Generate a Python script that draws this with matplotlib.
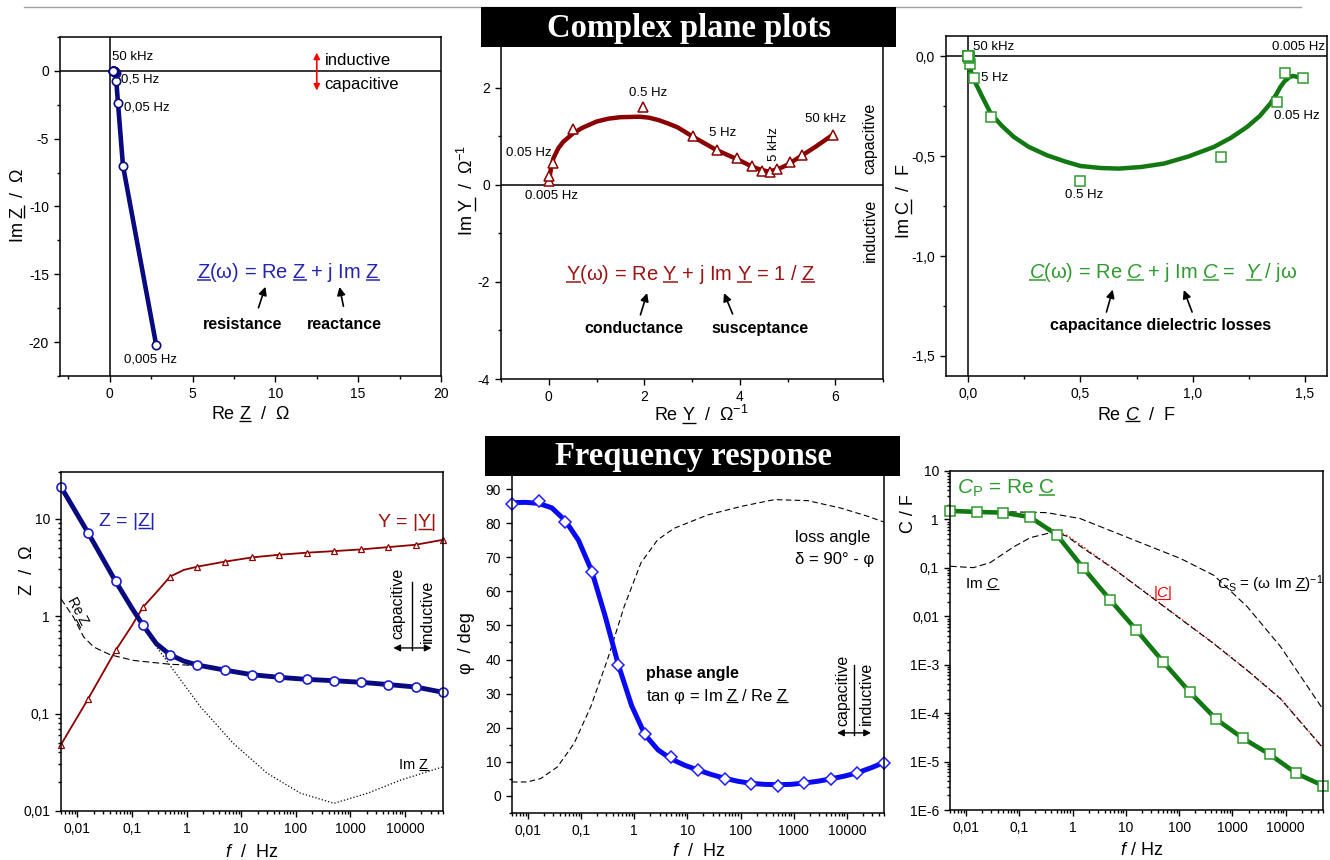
import re
import numpy as np
import matplotlib
matplotlib.use('Agg')
import matplotlib.pyplot as plt
from matplotlib.patches import Rectangle
from matplotlib.lines import Line2D
from matplotlib.transforms import IdentityTransform
from matplotlib.ticker import FixedLocator, FixedFormatter, MultipleLocator, LogLocator, NullFormatter

plt.rcParams['font.family'] = ['Liberation Sans', 'DejaVu Sans']
plt.rcParams['mathtext.fontset'] = 'custom'
plt.rcParams['mathtext.rm'] = 'Liberation Sans'
plt.rcParams['mathtext.it'] = 'Liberation Sans:italic'
plt.rcParams['mathtext.bf'] = 'Liberation Sans:bold'
plt.rcParams['axes.unicode_minus'] = False

# measured frequencies, 0.005 Hz ... 50 kHz
freq = [0.005, 0.0158, 0.05, 0.158, 0.5, 1.58, 5, 15.8, 50, 158, 500, 1580, 5000, 15800, 50000]

# impedance in the complex plane (Ohm)
re_z = [2.81, 0.80, 0.50, 0.40, 0.40, 0.32, 0.28, 0.25, 0.235, 0.225, 0.215, 0.21, 0.20, 0.19, 0.17]
im_z = [-20.24, -6.98, -2.35, -0.76, -0.19, -0.08, -0.04, -0.02, -0.01, -0.005, 0.0, 0.0, 0.0, 0.0, 0.01]

# admittance (1/Ohm): points and fitted curve
re_y = [0.00, 0.01, 0.08, 0.51, 1.97, 3.03, 3.52, 3.95, 4.26, 4.46, 4.63, 4.79, 5.05, 5.30, 5.95]
im_y = [0.08, 0.17, 0.45, 1.15, 1.59, 1.01, 0.72, 0.55, 0.39, 0.29, 0.26, 0.32, 0.46, 0.61, 1.03]
re_y_fit = [0.0, 0.05, 0.1, 0.2, 0.3, 0.5, 0.7, 1.0, 1.25, 1.5, 1.9, 2.1, 2.3, 2.5, 2.7, 3.0,
            3.25, 3.5, 3.75, 4.0, 4.2, 4.4, 4.6, 4.8, 5.0, 5.3, 5.6, 5.95]
im_y_fit = [0.05, 0.35, 0.55, 0.75, 0.88, 1.05, 1.17, 1.3, 1.36, 1.39, 1.4, 1.38, 1.33, 1.26, 1.18, 1.0,
            0.86, 0.72, 0.61, 0.5, 0.4, 0.32, 0.27, 0.32, 0.41, 0.6, 0.79, 1.03]

# complex capacitance (F): points and fitted curve
re_c = [1.491, 1.411, 1.377, 1.129, 0.496, 0.101, 0.025, 0.007, 0.003, 0.001, 0.0005, 0.0003, 0.0002, 0.0001, 0.0]
im_c = [-0.11, -0.085, -0.23, -0.507, -0.623, -0.305, -0.112, -0.04, -0.012, -0.004, -0.002, -0.001, -0.0005, -0.0002, 0.0]
re_c_fit = [0.0, 0.003, 0.012, 0.033, 0.06, 0.1, 0.15, 0.203, 0.27, 0.352, 0.43, 0.5, 0.59, 0.671, 0.77,
            0.872, 0.98, 1.095, 1.17, 1.243, 1.30, 1.347, 1.372, 1.392, 1.41, 1.43, 1.445, 1.459, 1.473, 1.485]
im_c_fit = [0.0, -0.03, -0.08, -0.138, -0.2, -0.288, -0.35, -0.405, -0.455, -0.497, -0.527, -0.55, -0.56,
            -0.563, -0.555, -0.538, -0.503, -0.455, -0.41, -0.355, -0.3, -0.238, -0.195, -0.155, -0.127,
            -0.108, -0.1, -0.102, -0.107, -0.115]

# Bode: |Z| and |Y|
z_mod = [21.1, 7.08, 2.27, 0.81, 0.394, 0.314, 0.279, 0.25, 0.235, 0.224, 0.217, 0.209, 0.198, 0.187, 0.165]
y_mod = [0.048, 0.142, 0.443, 1.23, 2.54, 3.21, 3.61, 3.99, 4.25, 4.46, 4.63, 4.82, 5.09, 5.38, 6.05]
freq_line = [0.005, 0.0158, 0.05, 0.1, 0.158, 0.28, 0.5, 0.89, 1.58, 5, 15.8, 50, 158, 500, 1580, 5000, 15800, 50000]
z_mod_line = [21.1, 7.08, 2.27, 1.2, 0.81, 0.52, 0.40, 0.345, 0.314, 0.279, 0.25, 0.235, 0.224, 0.217,
              0.209, 0.198, 0.187, 0.165]
y_mod_line = [0.048, 0.142, 0.443, 0.8, 1.23, 1.75, 2.54, 2.97, 3.21, 3.61, 3.99, 4.25, 4.46, 4.63,
              4.82, 5.09, 5.38, 6.05]
re_z_freq = [0.005, 0.0085, 0.013, 0.02, 0.04, 0.107, 0.5, 1.58, 5, 15.8, 50, 158, 500, 1580, 5000, 15800, 50000]
re_z_bode = [1.5, 0.97, 0.61, 0.48, 0.40, 0.35, 0.32, 0.31, 0.277, 0.248, 0.233, 0.222, 0.215, 0.207,
             0.196, 0.185, 0.163]
im_z_freq = [0.158, 0.188, 0.58, 1.8, 7.3, 30, 123, 500, 2065, 8500, 51000]
im_z_bode = [0.8, 0.658, 0.277, 0.117, 0.049, 0.0244, 0.0152, 0.012, 0.0152, 0.0208, 0.0285]

# phase angle (deg)
phase = [85.7, 86.4, 80.3, 65.8, 38.3, 18.1, 11.3, 7.5, 5.0, 3.6, 3.0, 3.8, 5.1, 6.6, 9.8]
phase_freq = [0.005, 0.009, 0.0158, 0.028, 0.05, 0.089, 0.158, 0.28, 0.5, 0.89, 1.58, 2.8, 5, 8.9, 15.8,
              28, 50, 89, 158, 280, 500, 890, 1580, 2800, 5000, 8900, 15800, 28000, 50000]
phase_line = [86.0, 86.1, 85.8, 84.5, 80.8, 75, 66, 53, 38.5, 26.5, 18, 13.5, 10.8, 9, 7.6,
              6.3, 5.2, 4.3, 3.7, 3.4, 3.3, 3.4, 3.8, 4.3, 5.0, 5.8, 6.8, 8.2, 9.8]
loss_freq = [0.005, 0.0097, 0.0173, 0.0357, 0.0736, 0.152, 0.313, 0.644, 1.33, 2.74, 5.64, 23.9,
             102, 432, 1840, 7800, 24800, 52600]
loss_angle = [4.1, 4.1, 5.1, 8.5, 15.4, 26.2, 40, 55.5, 68.3, 75.1, 78.5, 82.4, 84.9, 86.9, 86.6,
              84.4, 82, 80.2]

# capacitance spectra (F)
c_par = [1.50, 1.43, 1.38, 1.12, 0.487, 0.0998, 0.0222, 0.00517, 0.00115, 2.72e-4, 7.42e-5,
         3.01e-5, 1.41e-5, 5.71e-6, 3.18e-6]
im_c_freq = [0.005, 0.0137, 0.0283, 0.0777, 0.16, 0.44, 0.78, 1.39, 5.9, 25, 106, 449, 1900, 8050, 51000]
im_c_bode = [0.108, 0.101, 0.128, 0.27, 0.42, 0.55, 0.45, 0.28, 0.095, 0.029, 0.0088, 0.0027,
             7.6e-4, 1.95e-4, 1.85e-5]
mod_c_freq = [0.005, 0.05, 0.16, 0.33, 0.78, 1.39, 5.9, 25, 106, 449, 1900, 8050, 51000]
mod_c = [1.5, 1.4, 1.2, 0.70, 0.47, 0.30, 0.0966, 0.0295, 0.009, 0.00274, 7.7e-4, 2.0e-4, 1.87e-5]
c_ser_freq = [0.005, 0.0777, 0.33, 1.39, 5.9, 25, 106, 449, 1900, 8050, 51000]
c_ser = [1.5, 1.43, 1.38, 1.04, 0.552, 0.293, 0.156, 0.07, 0.0157, 0.00234, 1.16e-4]

# tick labels
f_ticks = [0.01, 0.1, 1, 10, 100, 1000, 10000]
f_ticklabels = ['0,01', '0,1', '1', '10', '100', '1000', '10000']
z_ticks = [0.01, 0.1, 1, 10]
z_ticklabels = ['0,01', '0,1', '1', '10']
c_ticks = [1e-6, 1e-5, 1e-4, 1e-3, 0.01, 0.1, 1, 10]
c_ticklabels = ['1E-6', '1E-5', '1E-4', '1E-3', '0,01', '0,1', '1', '10']
cplane_ticks = [0.0, 0.5, 1.0, 1.5]
cplane_xlabels = ['0,0', '0,5', '1,0', '1,5']
cplane_yticks = [-1.5, -1.0, -0.5, 0.0]
cplane_ylabels = ['-1,5', '-1,0', '-0,5', '0,0']

navy = '#0a0a80'
zblue = '#2424b0'
dred = '#8b0000'
ytext = '#9a1414'
green = '#127812'
lgreen = '#2f9a2f'
blue = '#0a0af0'

W, H = 1330, 860
fig = plt.figure(figsize=(13.3, 8.6), dpi=100)

# <Z> -> upright underlined symbol, <*C> -> italic underlined symbol
UL = re.compile(r'<(\*?)(\w)>')
underlined = []


def markup(s):
    out, pieces, pos = '', [], 0
    for m in UL.finditer(s):
        out += s[pos:m.start()]
        seg = (r'$\mathit{%s}$' if m.group(1) else r'$\mathrm{%s}$') % m.group(2)
        out += seg
        pieces.append((out, seg))
        pos = m.end()
    return out + s[pos:], pieces


def utext(ax, x, y, s, **kw):
    txt, pieces = markup(s)
    t = ax.text(x, y, txt, **kw)
    if pieces:
        underlined.append((t, pieces))
    return t


def ulabel(label, s):
    txt, pieces = markup(s)
    label.set_text(txt)
    if pieces:
        underlined.append((label, pieces))


def draw_underlines():
    fig.canvas.draw()
    r = fig.canvas.get_renderer()
    for t, pieces in underlined:
        prop = t.get_fontproperties()
        em = prop.get_size_in_points() * fig.dpi / 72
        w, h, d = r.get_text_width_height_descent(t.get_text(), prop, ismath=True)
        _, h_lp, d_lp = r.get_text_width_height_descent('lp', prop, ismath=False)
        h, d = max(h, h_lp), max(d, d_lp)
        bb = t.get_window_extent(r)
        cx, cy = (bb.x0 + bb.x1) / 2, (bb.y0 + bb.y1) / 2
        a = np.deg2rad(t.get_rotation())
        ux, uy = np.cos(a), np.sin(a)
        vx, vy = -uy, ux
        v = -h / 2 + d - 0.1 * em
        for prefix, seg in pieces:
            end = r.get_text_width_height_descent(prefix, prop, ismath=True)[0]
            seg_w = r.get_text_width_height_descent(seg, prop, ismath=True)[0]
            u0, u1 = -w / 2 + end - seg_w, -w / 2 + end
            xs = [cx + u0 * ux + v * vx, cx + u1 * ux + v * vx]
            ys = [cy + u0 * uy + v * vy, cy + u1 * uy + v * vy]
            fig.add_artist(Line2D(xs, ys, color=t.get_color(), lw=max(0.8, 0.075 * em * 0.72),
                                  transform=IdentityTransform(), solid_capstyle='butt'))


def frame(px_left, px_top, px_w, px_h):
    ax = fig.add_axes([px_left / W, 1 - (px_top + px_h) / H, px_w / W, px_h / H])
    for s in ax.spines.values():
        s.set_linewidth(1.1)
    ax.tick_params(which='both', direction='out', top=False, right=False, labelsize=10, width=1.0)
    ax.tick_params(which='major', length=4.5)
    ax.tick_params(which='minor', length=2.5)
    return ax


def axis_labels(ax, xl, yl, xpos, ypos, size=13):
    ax.set_xlabel('x', fontsize=size)
    ax.set_ylabel('y', fontsize=size)
    ulabel(ax.xaxis.label, xl)
    ulabel(ax.yaxis.label, yl)
    ax.xaxis.set_label_coords(*xpos)
    ax.yaxis.set_label_coords(*ypos)
    ax.xaxis.label.set_va('center')
    ax.yaxis.label.set_va('center')


def log_freq(ax):
    ax.set_xscale('log')
    ax.set_xlim(0.005, 50000)
    ax.xaxis.set_major_locator(FixedLocator(f_ticks))
    ax.xaxis.set_major_formatter(FixedFormatter(f_ticklabels))
    ax.xaxis.set_minor_locator(LogLocator(base=10, subs=range(2, 10), numticks=40))
    ax.xaxis.set_minor_formatter(NullFormatter())


def arrow(ax, tail, head, color='k', style='-|>', coords='data', lw=1.2, ms=12):
    ax.annotate('', xy=head, xytext=tail, xycoords=coords, textcoords=coords,
                arrowprops=dict(arrowstyle=style, color=color, lw=lw, mutation_scale=ms,
                                shrinkA=0, shrinkB=0))


def cap_ind(ax, xc, xi, yc, yi, xs, y0, y1, xl, xr):
    ax.text(xc, yc, 'capacitive', rotation=90, ha='center', va='center', fontsize=11.5,
            transform=ax.transAxes)
    ax.text(xi, yi, 'inductive', rotation=90, ha='center', va='center', fontsize=11.5,
            transform=ax.transAxes)
    ax.plot([xs, xs], [y0, y1], color='k', lw=1, transform=ax.transAxes)
    arrow(ax, (xs, y1 + 0.006), (xl, y1 + 0.006), coords='axes fraction', lw=1, ms=10)
    arrow(ax, (xs, y1 + 0.006), (xr, y1 + 0.006), coords='axes fraction', lw=1, ms=10)


# ---------------- Z in the complex plane
ax1 = frame(60, 37, 381, 339)
ax1.set_xlim(-3, 20)
ax1.set_ylim(-22.5, 2.5)
ax1.axhline(0, color='k', lw=1.1)
ax1.axvline(0, color='k', lw=1.1)
ax1.plot(re_z, im_z, '-o', color=navy, lw=3.3, ms=6, mfc='white', mec=navy, mew=1.2)
ax1.xaxis.set_major_locator(MultipleLocator(5))
ax1.xaxis.set_minor_locator(MultipleLocator(2.5))
ax1.yaxis.set_major_locator(MultipleLocator(5))
ax1.yaxis.set_minor_locator(MultipleLocator(2.5))
axis_labels(ax1, 'Re <Z>  /  Ω', 'Im <Z>  /  Ω', (0.499, -0.115), (-0.110, 0.504))
for txt, x, y in [('50 kHz', 0.12, 1.0), ('0,5 Hz', 0.66, -0.6), ('0,05 Hz', 0.84, -2.67),
                  ('0,005 Hz', 0.84, -21.3)]:
    ax1.text(x, y, txt, fontsize=9.5, ha='left', va='center')
arrow(ax1, (12.5, 0.0), (12.5, 1.35), color='red', lw=1.2, ms=9)
arrow(ax1, (12.5, 0.0), (12.5, -1.45), color='red', lw=1.2, ms=9)
ax1.text(13.0, 0.79, 'inductive', fontsize=12, va='center')
ax1.text(12.95, -0.98, 'capacitive', fontsize=12, va='center')
utext(ax1, 10.8, -14.9, '<Z>(ω) = Re <Z> + j Im <Z>', color=zblue, fontsize=14.5, ha='center', va='center')
arrow(ax1, (8.98, -17.47), (9.40, -15.92))
arrow(ax1, (14.11, -17.35), (13.87, -15.93))
ax1.text(8.01, -18.7, 'resistance', fontsize=11.5, fontweight='bold', ha='center', va='center')
ax1.text(14.17, -18.7, 'reactance', fontsize=11.5, fontweight='bold', ha='center', va='center')

# ---------------- Y in the complex plane
ax2 = frame(501, 39, 382, 340)
ax2.set_xlim(-1, 7)
ax2.set_ylim(-4, 3)
ax2.axhline(0, color='k', lw=1.1)
ax2.plot(re_y_fit, im_y_fit, '-', color=dred, lw=3.2)
ax2.plot(re_y, im_y, '^', ms=7.5, mfc='white', mec=dred, mew=1.1)
ax2.xaxis.set_major_locator(MultipleLocator(2))
ax2.xaxis.set_minor_locator(MultipleLocator(1))
ax2.yaxis.set_major_locator(FixedLocator([-4, -2, 0, 2]))
ax2.yaxis.set_minor_locator(FixedLocator([-3, -1, 1]))
axis_labels(ax2, 'Re <Y>  /  Ω$^{-1}$', 'Im <Y>  /  Ω$^{-1}$', (0.525, -0.106), (-0.089, 0.555))
for txt, x, y in [('0.5 Hz', 2.09, 1.88), ('0.05 Hz', -0.41, 0.66), ('0.005 Hz', 0.05, -0.23),
                  ('5 Hz', 3.64, 1.06), ('50 kHz', 5.80, 1.35)]:
    ax2.text(x, y, txt, fontsize=9.5, ha='center', va='center')
ax2.text(4.72, 0.84, '5 kHz', fontsize=9.5, ha='center', va='center', rotation=90)
ax2.text(6.73, 0.95, 'capacitive', fontsize=11.5, ha='center', va='center', rotation=90)
ax2.text(6.73, -0.95, 'inductive', fontsize=11.5, ha='center', va='center', rotation=90)
utext(ax2, 2.97, -1.85, '<Y>(ω) = Re <Y> + j Im <Y> = 1 / <Z>', color=ytext, fontsize=14.5,
      ha='center', va='center')
arrow(ax2, (1.92, -2.68), (2.06, -2.23))
arrow(ax2, (3.85, -2.66), (3.67, -2.23))
ax2.text(1.79, -2.97, 'conductance', fontsize=11.5, fontweight='bold', ha='center', va='center')
ax2.text(4.43, -2.97, 'susceptance', fontsize=11.5, fontweight='bold', ha='center', va='center')

# ---------------- C in the complex plane
ax3 = frame(946, 36, 381, 340)
ax3.set_xlim(-0.1, 1.6)
ax3.set_ylim(-1.6, 0.1)
ax3.axhline(0, color='k', lw=1.1)
ax3.axvline(0, color='k', lw=1.1)
ax3.plot(re_c_fit, im_c_fit, '-', color=green, lw=3.2, solid_joinstyle='round')
ax3.plot(re_c, im_c, 's', ms=6.5, mfc='white', mec=lgreen, mew=1.1, clip_on=False)
ax3.xaxis.set_major_locator(FixedLocator(cplane_ticks))
ax3.xaxis.set_major_formatter(FixedFormatter(cplane_xlabels))
ax3.xaxis.set_minor_locator(MultipleLocator(0.25))
ax3.yaxis.set_major_locator(FixedLocator(cplane_yticks))
ax3.yaxis.set_major_formatter(FixedFormatter(cplane_ylabels))
ax3.yaxis.set_minor_locator(MultipleLocator(0.25))
axis_labels(ax3, 'Re <*C>  /  F', 'Im <C>  /  F', (0.498, -0.115), (-0.108, 0.515))
ax3.text(0.022, 0.043, '50 kHz', fontsize=9.5, ha='left', va='center')
ax3.text(1.592, 0.043, '0.005 Hz', fontsize=9.5, ha='right', va='center')
ax3.text(0.055, -0.11, '5 Hz', fontsize=9.5, ha='left', va='center')
ax3.text(0.515, -0.697, '0.5 Hz', fontsize=9.5, ha='center', va='center')
ax3.text(1.466, -0.30, '0.05 Hz', fontsize=9.5, ha='center', va='center')
utext(ax3, 0.87, -1.08, '<*C>(ω) = Re <*C> + j Im <*C> =  <*Y> / jω', color=lgreen, fontsize=14.5,
      ha='center', va='center')
arrow(ax3, (0.616, -1.28), (0.644, -1.168))
arrow(ax3, (0.998, -1.28), (0.961, -1.17))
ax3.text(0.857, -1.347, 'capacitance dielectric losses', fontsize=11.5, fontweight='bold',
         ha='center', va='center')

# ---------------- |Z|, |Y| vs frequency
ax4 = frame(61, 472, 382, 339)
log_freq(ax4)
ax4.set_yscale('log')
ax4.set_ylim(0.01, 30)
ax4.yaxis.set_major_locator(FixedLocator(z_ticks))
ax4.yaxis.set_major_formatter(FixedFormatter(z_ticklabels))
ax4.yaxis.set_minor_locator(LogLocator(base=10, subs=range(2, 10), numticks=40))
ax4.yaxis.set_minor_formatter(NullFormatter())
ax4.plot(re_z_freq, re_z_bode, '--', color='k', lw=0.8, dashes=(6, 3))
ax4.plot(im_z_freq, im_z_bode, ':', color='k', lw=0.9)
ax4.plot(freq_line, y_mod_line, '-', color=dred, lw=1.3)
ax4.plot(freq, y_mod, '^', ms=5, mfc='white', mec=dred, mew=0.9, clip_on=False)
ax4.plot(freq_line, z_mod_line, '-', color=navy, lw=3.5)
ax4.plot(freq, z_mod, 'o', ms=6.5, mfc='white', mec='#1c1cd0', mew=1.2, clip_on=False)
axis_labels(ax4, r'$\mathit{f}$  /  Hz', 'Z  /  Ω', (0.499, -0.121), (-0.089, 0.711))
utext(ax4, 0.098, 0.853, 'Z = |<Z>|', color=zblue, fontsize=14, ha='left', va='center',
      transform=ax4.transAxes)
utext(ax4, 0.982, 0.851, 'Y = |<Y>|', color=ytext, fontsize=14, ha='right', va='center',
      transform=ax4.transAxes)
utext(ax4, 0.045, 0.588, 'Re <Z>', fontsize=10, rotation=-62, ha='center', va='center',
      transform=ax4.transAxes)
utext(ax4, 0.883, 0.136, 'Im <Z>', fontsize=10.5, ha='left', va='center', transform=ax4.transAxes)
cap_ind(ax4, 0.883, 0.96, 0.613, 0.588, 0.918, 0.676, 0.475, 0.87, 0.97)

# ---------------- phase angle vs frequency
ax5 = frame(512, 472, 372, 341)
log_freq(ax5)
ax5.set_ylim(-5, 95)
ax5.yaxis.set_major_locator(MultipleLocator(10))
ax5.yaxis.set_minor_locator(MultipleLocator(5))
ax5.plot(loss_freq, loss_angle, '--', color='k', lw=0.8, dashes=(5, 3))
ax5.plot(phase_freq, phase_line, '-', color=blue, lw=3.6)
ax5.plot(freq, phase, 'D', ms=6, mfc='white', mec='#2020ff', mew=1.1, clip_on=False)
axis_labels(ax5, r'$\mathit{f}$  /  Hz', 'φ  / deg', (0.501, -0.114), (-0.122, 0.498))
ax5.text(0.761, 0.809, 'loss angle', fontsize=12, ha='left', va='center', transform=ax5.transAxes)
ax5.text(0.761, 0.742, 'δ = 90° - φ', fontsize=12, ha='left', va='center', transform=ax5.transAxes)
ax5.text(0.36, 0.408, 'phase angle', fontsize=11.5, fontweight='bold', ha='left', va='center',
         transform=ax5.transAxes)
utext(ax5, 0.36, 0.343, 'tan φ = Im <Z> / Re <Z>', fontsize=12, ha='left', va='center',
      transform=ax5.transAxes)
cap_ind(ax5, 0.890, 0.952, 0.361, 0.352, 0.919, 0.434, 0.229, 0.874, 0.965)

# ---------------- capacitance vs frequency
ax6 = frame(950, 471, 373, 339)
log_freq(ax6)
ax6.set_yscale('log')
ax6.set_ylim(1e-6, 10)
ax6.yaxis.set_major_locator(FixedLocator(c_ticks))
ax6.yaxis.set_major_formatter(FixedFormatter(c_ticklabels))
ax6.yaxis.set_minor_locator(LogLocator(base=10, subs=range(2, 10), numticks=40))
ax6.yaxis.set_minor_formatter(NullFormatter())
ax6.plot(c_ser_freq, c_ser, '--', color='k', lw=0.8, dashes=(6, 3))
ax6.plot(mod_c_freq, mod_c, ':', color='red', lw=1.0)
ax6.plot(im_c_freq, im_c_bode, '--', color='k', lw=0.8, dashes=(6, 3))
ax6.plot(freq, c_par, '-', color=green, lw=3.3)
ax6.plot(freq, c_par, 's', ms=6.5, mfc='white', mec=lgreen, mew=1.1, clip_on=False)
axis_labels(ax6, r'$\mathit{f}$ / Hz', 'C / F', (0.514, -0.118), (-0.112, 0.875))
utext(ax6, 0.019, 0.95, r'$\mathit{C}_\mathrm{P}$ = Re <C>', color=lgreen, fontsize=15,
      ha='left', va='center', transform=ax6.transAxes)
utext(ax6, 0.040, 0.667, 'Im <*C>', fontsize=11, ha='left', va='center', transform=ax6.transAxes)
utext(ax6, 0.545, 0.639, '|<*C>|', color='red', fontsize=11, ha='left', va='center',
      transform=ax6.transAxes)
utext(ax6, 0.715, 0.667, r'$\mathit{C}_\mathrm{S}$ = (ω Im <Z>)$^{-1}$', fontsize=11,
      ha='left', va='center', transform=ax6.transAxes)

# ---------------- headers
fig.add_artist(Line2D([24 / W, 1301 / W], [1 - 7 / H, 1 - 7 / H], color='#a0a0a0', lw=1))
for x0, y0, title in [(481, 7, 'Complex plane plots'), (485, 436, 'Frequency response')]:
    fig.add_artist(Rectangle((x0 / W, 1 - (y0 + 40) / H), 415 / W, 40 / H, facecolor='black',
                             edgecolor='none', transform=fig.transFigure, zorder=5))
    fig.text((x0 + 208) / W, 1 - (y0 + 21) / H, title, color='white', fontsize=23.5, fontweight='bold',
             family='Liberation Serif', ha='center', va='center', zorder=6)

draw_underlines()
fig.savefig('out.png', dpi=100, facecolor='white')
